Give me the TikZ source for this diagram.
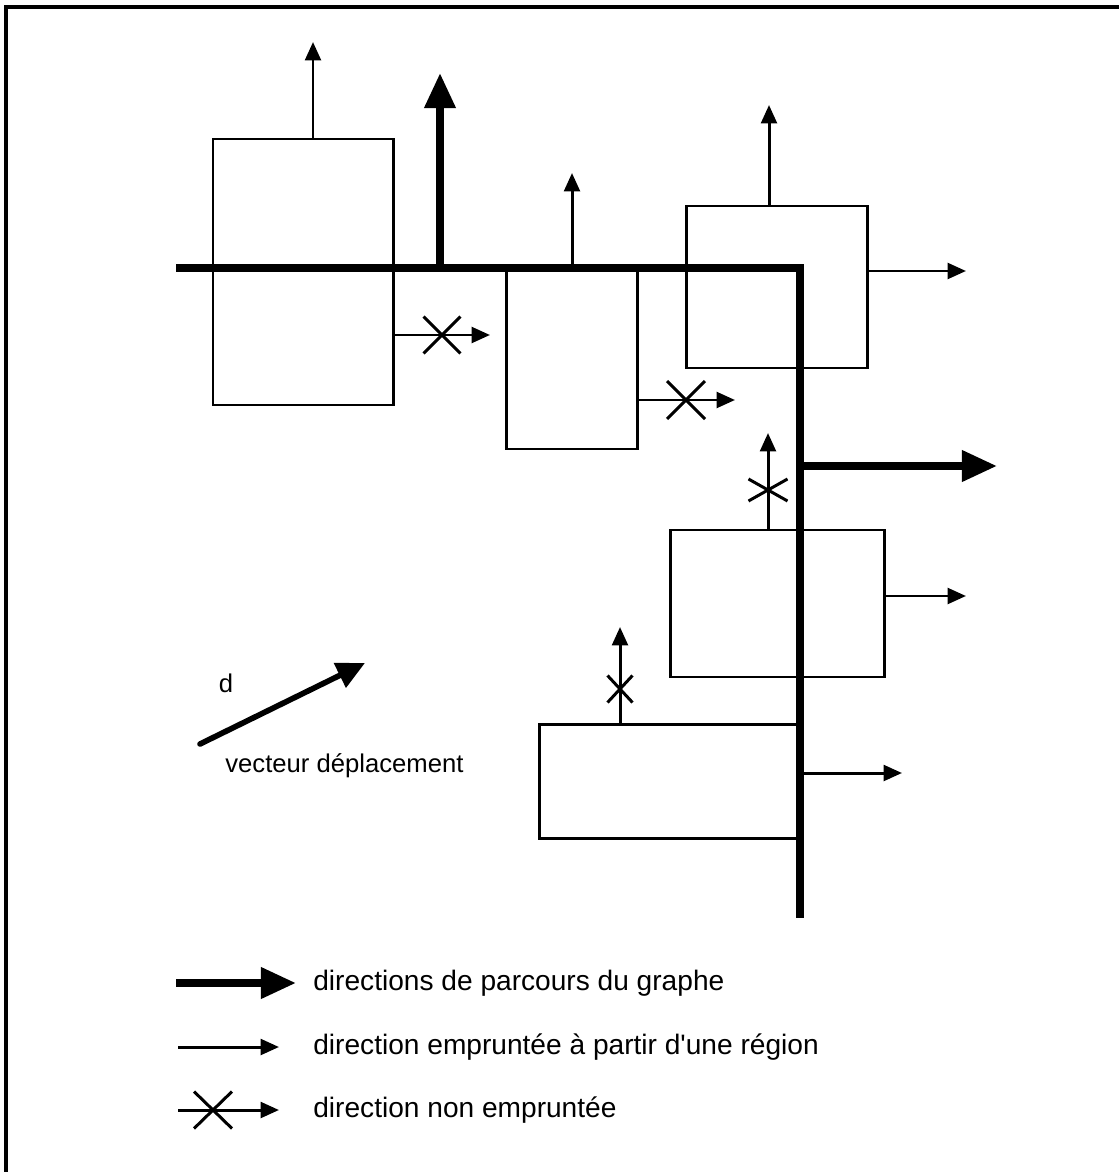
\documentclass[tikz,border=0pt]{standalone}
\usepackage{fontspec}
\setmainfont{Liberation Sans}
\usetikzlibrary{arrows.meta, shapes.misc}

\begin{document}
\begin{tikzpicture}[
  x=0.02cm, y=-0.02cm,
  region/.style={rectangle, draw, line width=1.7pt, inner sep=0pt},
  fine/.style={line width=1.7pt, -{Triangle[length=10.5pt, width=9pt]}},
  parcours/.style={line width=4.3pt, line cap=butt, line join=miter},
  fleche/.style={parcours, -{Triangle[length=20pt, width=17pt]}},
  croix/.style={cross out, draw, line width=1.7pt, inner sep=0pt},
  legende/.style={font=\fontsize{16}{19}\selectfont, anchor=base west, inner sep=0pt},
  etiq/.style={font=\fontsize{14.6}{17}\selectfont, inner sep=0pt}
]
  %% --- geometrie (unite : un pixel de l'image) ---
  \def\pxl{0.02cm}
  \useasboundingbox (0,0) rectangle (1119,1172);

  %% --- cadre : seulement le haut et la gauche ---
  \draw[line width=1.8pt] (6,1172) -- (6,7) -- (1119,7);

  %% --- regions ---
  \foreach \nom/\cx/\cy/\w/\h in {
    r1/303/272/180/266,
    r2/571.5/358.5/131/181,
    r3/776.5/287/181/162,
    r4/777/603.5/214/147,
    r5/669.5/781/261/114
  } {
    \node[region, minimum width={\w*\pxl}, minimum height={\h*\pxl}] (\nom) at (\cx,\cy) {};
  }

  %% --- chemin de parcours du graphe ---
  \coordinate (g0) at (176,268);
  \coordinate (gc) at (800,268);
  \coordinate (g1) at (800,918);
  \draw[parcours] (g0) -- (gc) -- (g1);

  \coordinate (h1) at (440,73);
  \coordinate (h2) at (997,466);
  \draw[fleche] (h1 |- g0) -- (h1);
  \draw[fleche] (h2 -| g1) -- (h2);

  %% --- directions empruntees a partir d'une region ---
  \coordinate (t1) at (313,42);
  \coordinate (t2) at (572,173);
  \coordinate (t3) at (769,105);
  \coordinate (t4) at (966,271);
  \coordinate (t5) at (966,596);
  \coordinate (t6) at (902,773);
  \draw[fine] (t1 |- r1.north) -- (t1);
  \draw[fine] (t2 |- g0) -- (t2);
  \draw[fine] (t3 |- r3.north) -- (t3);
  \draw[fine] (t4 -| r3.east) -- (t4);
  \draw[fine] (t5 -| r4.east) -- (t5);
  \draw[fine] (t6 -| g1) -- (t6);

  %% --- directions non empruntees : fleche barree d'une croix ---
  \foreach \c/\cx/\cy/\w/\h in {
    x1/442/335/34/34,
    x2/686/400/35/35,
    x3/768/490/36/19,
    x4/620/689/22/24
  } {
    \node[croix, minimum width={\w*\pxl}, minimum height={\h*\pxl}] (\c) at (\cx,\cy) {};
  }
  \coordinate (n1) at (490,335);
  \coordinate (n2) at (735,400);
  \coordinate (n3) at (768,433);
  \coordinate (n4) at (620,627);
  \draw[fine] (n1 -| r1.east) -- (n1);
  \draw[fine] (n2 -| r2.east) -- (n2);
  \draw[fine] (n3 |- r4.north) -- (n3);
  \draw[fine] (n4 |- r5.north) -- (n4);

  %% --- vecteur deplacement ---
  \coordinate (d0) at (200,744);
  \coordinate (d1) at (365,663);
  \draw[line width=3.2pt, line cap=round, -{Triangle[length=16pt, width=15pt]}] (d0) -- (d1);
  \node[etiq] (dlab) at (226,683) {d};
  \node[etiq, anchor=base west] (vlab) at (225,772) {vecteur déplacement};

  %% --- legende ---
  \coordinate (l1a) at (176,983);
  \coordinate (l1b) at (296,983);
  \draw[parcours, -{Triangle[length=20pt, width=17pt]}] (l1a) -- (l1b);
  \node[legende] (l1) at (313,990) {directions de parcours du graphe};

  \coordinate (l2a) at (178,1047);
  \coordinate (l2b) at (279,1047);
  \draw[fine] (l2a) -- (l2b);
  \node[legende] (l2) at (313,1054) {direction empruntée à partir d\textquotesingle une région};

  \node[croix, minimum width={35*\pxl}, minimum height={34*\pxl}] (lx) at (213,1110) {};
  \coordinate (l3a) at (178,1110);
  \coordinate (l3b) at (279,1110);
  \draw[fine] (l3a) -- (l3b);
  \node[legende] (l3) at (313,1117) {direction non empruntée};
\end{tikzpicture}
\end{document}
